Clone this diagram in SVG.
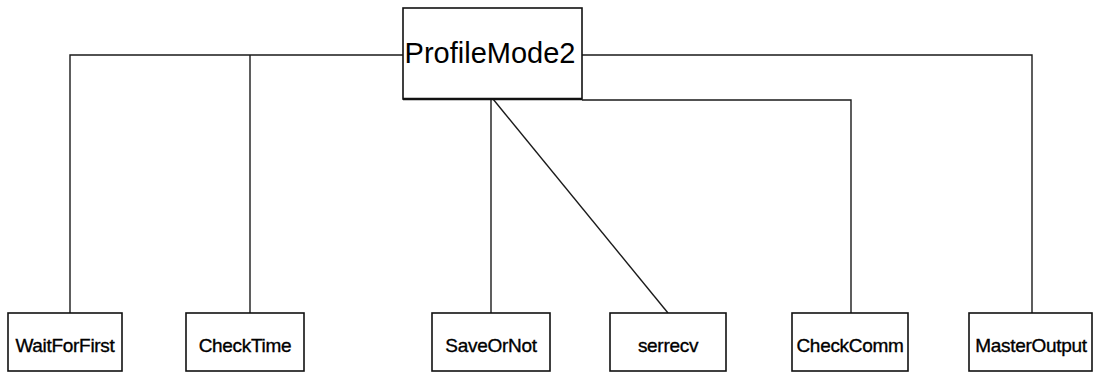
<svg xmlns="http://www.w3.org/2000/svg" width="1100" height="377" viewBox="0 0 1100 377">
<style>
.box{fill:#fff;stroke:#111;stroke-width:1.6}
.lbl{font-family:"Liberation Sans",Arial,sans-serif;font-size:19px;fill:#000;stroke:#000;stroke-width:0.35;text-anchor:middle;letter-spacing:-0.3px}
.big{font-family:"Liberation Sans",Arial,sans-serif;font-size:29px;fill:#000;text-anchor:middle}
.c{fill:none;stroke:#1a1a1a;stroke-width:1.4}
</style>
<rect width="1100" height="377" fill="#fff"/>
<g id="connectors">
<polyline class="c" points="403,55 70,55 70,313"/>
<line class="c" x1="250" y1="55" x2="250" y2="313"/>
<polyline class="c" points="582,55 1032,55 1032,313"/>
<polyline class="c" points="582,100 851,100 851,313"/>
<line class="c" x1="491" y1="100" x2="491" y2="313"/>
<line class="c" x1="493" y1="99" x2="668" y2="313"/>
</g>
<g id="ProfileMode2">
<rect class="box" x="403" y="8" width="179" height="91"/>
<line x1="403" y1="99" x2="582" y2="99" stroke="#111" stroke-width="2.5"/>
<text class="big" x="490" y="63">ProfileMode2</text>
</g>
<g id="WaitForFirst">
<rect class="box" x="8" y="313" width="114" height="58"/>
<text class="lbl" x="65" y="352">WaitForFirst</text>
</g>
<g id="CheckTime">
<rect class="box" x="186" y="313" width="118" height="58"/>
<text class="lbl" x="245" y="352">CheckTime</text>
</g>
<g id="SaveOrNot">
<rect class="box" x="432" y="313" width="118" height="58"/>
<text class="lbl" x="491" y="352">SaveOrNot</text>
</g>
<g id="serrecv">
<rect class="box" x="610" y="313" width="116" height="58"/>
<text class="lbl" x="668" y="352">serrecv</text>
</g>
<g id="CheckComm">
<rect class="box" x="792" y="313" width="116" height="58"/>
<text class="lbl" x="850" y="352">CheckComm</text>
</g>
<g id="MasterOutput">
<rect class="box" x="969" y="313" width="123" height="58"/>
<text class="lbl" x="1031" y="352">MasterOutput</text>
</g>
</svg>
